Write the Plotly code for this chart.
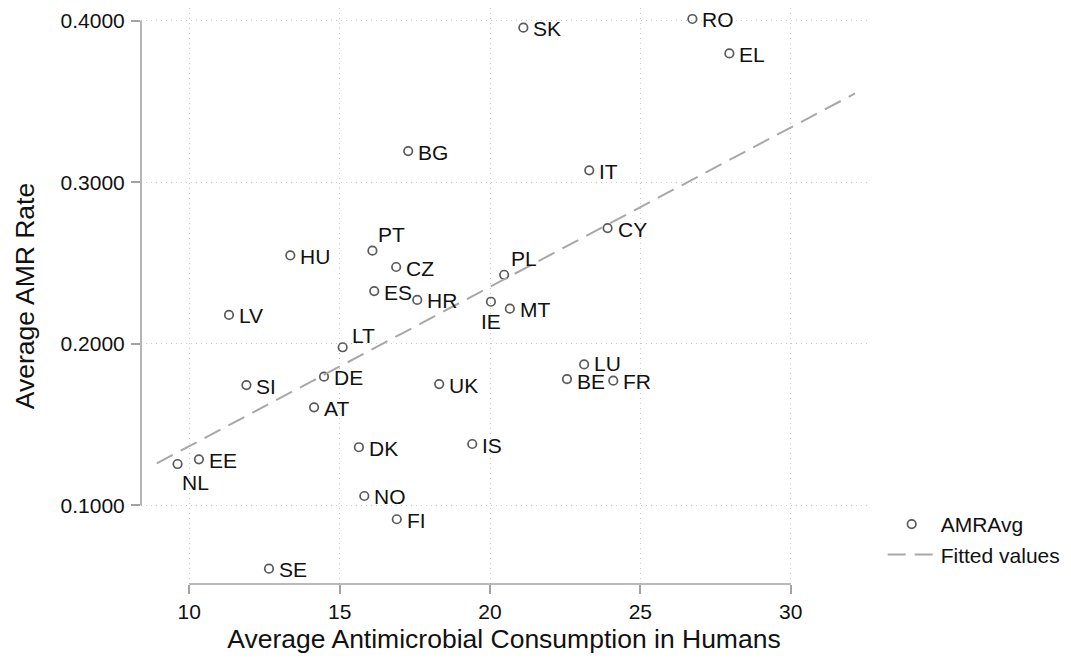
import plotly.graph_objects as go

# ---- data ----
countries = ["RO", "EL", "SK", "BG", "IT", "CY", "PT", "HU", "CZ", "PL",
             "ES", "HR", "IE", "MT", "LV", "LT", "LU", "DE", "BE", "FR",
             "UK", "SI", "AT", "DK", "IS", "EE", "NL", "NO", "FI", "SE"]
consumption = [26.73, 27.96, 21.11, 17.28, 23.30, 23.91, 16.09, 13.36, 16.88, 20.47,
               16.15, 17.58, 20.03, 20.66, 11.32, 15.10, 23.13, 14.48, 22.56, 24.10,
               18.31, 11.90, 14.15, 15.64, 19.41, 10.32, 9.61, 15.82, 16.90, 12.65]
amr_avg = [0.4011, 0.3798, 0.3957, 0.3193, 0.3074, 0.2716, 0.2576, 0.2547, 0.2475, 0.2427,
           0.2326, 0.2271, 0.2260, 0.2217, 0.2178, 0.1978, 0.1872, 0.1796, 0.1781, 0.1771,
           0.1750, 0.1744, 0.1606, 0.1359, 0.1379, 0.1284, 0.1255, 0.1057, 0.0913, 0.0607]
fit_x = [8.92, 32.14]
fit_y = [0.1259, 0.3550]
x_ticks = [10, 15, 20, 25, 30]
y_ticks = [0.1, 0.2, 0.3, 0.4]

FONT = "Liberation Sans, Arial, Helvetica, sans-serif"
AXIS_GRAY = "#a3a3a3"
TXT = "#111111"

# label placement styles (xanchor, xshift, yshift)
default_place = ("left", 8, -1)
special_place = {
    "PT": ("left", 4, 16),
    "PL": ("left", 5, 16),
    "LT": ("left", 7, 12),
    "IE": ("center", 0, -20),
    "NL": ("left", 2, -18),
    "LU": ("left", 8, 1),
    "BE": ("left", 8, -2),
}

fig = go.Figure()
fig.add_trace(go.Scatter(
    x=consumption, y=amr_avg, mode="markers", name="AMRAvg",
    marker=dict(symbol="circle-open", size=8.5, color="#5a5a5a", line=dict(width=1.7)),
))
fig.add_trace(go.Scatter(
    x=fit_x, y=fit_y, mode="lines", name="Fitted values",
    line=dict(color="#a8a8a8", width=2, dash="18px,9px"),
))

annotations = []
for c, xv, yv in zip(countries, consumption, amr_avg):
    xa, xs, ys = special_place.get(c, default_place)
    annotations.append(dict(
        x=xv, y=yv, xref="x", yref="y", text=c, showarrow=False,
        xanchor=xa, yanchor="middle", xshift=xs, yshift=ys,
        font=dict(family=FONT, size=21, color=TXT),
    ))

shapes = [
    dict(type="line", xref="x", yref="paper", x0=min(x_ticks), x1=max(x_ticks), y0=0, y1=0,
         line=dict(color=AXIS_GRAY, width=1.6), layer="above"),
    dict(type="line", xref="paper", yref="y", x0=0, x1=0, y0=min(y_ticks), y1=max(y_ticks),
         line=dict(color=AXIS_GRAY, width=1.6), layer="above"),
]

fig.update_layout(
    width=1071, height=663,
    margin=dict(l=133, r=212, t=0, b=87),
    paper_bgcolor="white", plot_bgcolor="white",
    font=dict(family=FONT, color=TXT),
    showlegend=True,
    legend=dict(x=1.0216, y=0.139, xanchor="left", yanchor="top",
                font=dict(family=FONT, size=21, color=TXT),
                itemwidth=48, bgcolor="rgba(0,0,0,0)"),
    annotations=annotations,
    shapes=shapes,
    xaxis=dict(
        range=[8.394, 32.537], tickvals=x_ticks, ticks="outside", ticklen=9,
        tickwidth=1.6, tickcolor=AXIS_GRAY, showline=False, zeroline=False,
        showgrid=True, gridcolor="#c9c9c9", gridwidth=1, griddash="1px,4px",
        tickfont=dict(family=FONT, size=21, color=TXT),
        title=dict(text="Average Antimicrobial Consumption in Humans",
                   font=dict(family=FONT, size=26.5, color=TXT), standoff=7),
    ),
    yaxis=dict(
        range=[0.0512, 0.4079], tickvals=y_ticks, tickformat=".4f", ticks="outside", ticklen=9,
        tickwidth=1.6, tickcolor=AXIS_GRAY, showline=False, zeroline=False,
        showgrid=True, gridcolor="#c9c9c9", gridwidth=1, griddash="1px,4px",
        tickfont=dict(family=FONT, size=21, color=TXT), ticklabelstandoff=2,
        title=dict(text="Average AMR Rate",
                   font=dict(family=FONT, size=26.5, color=TXT), standoff=18),
    ),
)

fig.write_html("out.html")
